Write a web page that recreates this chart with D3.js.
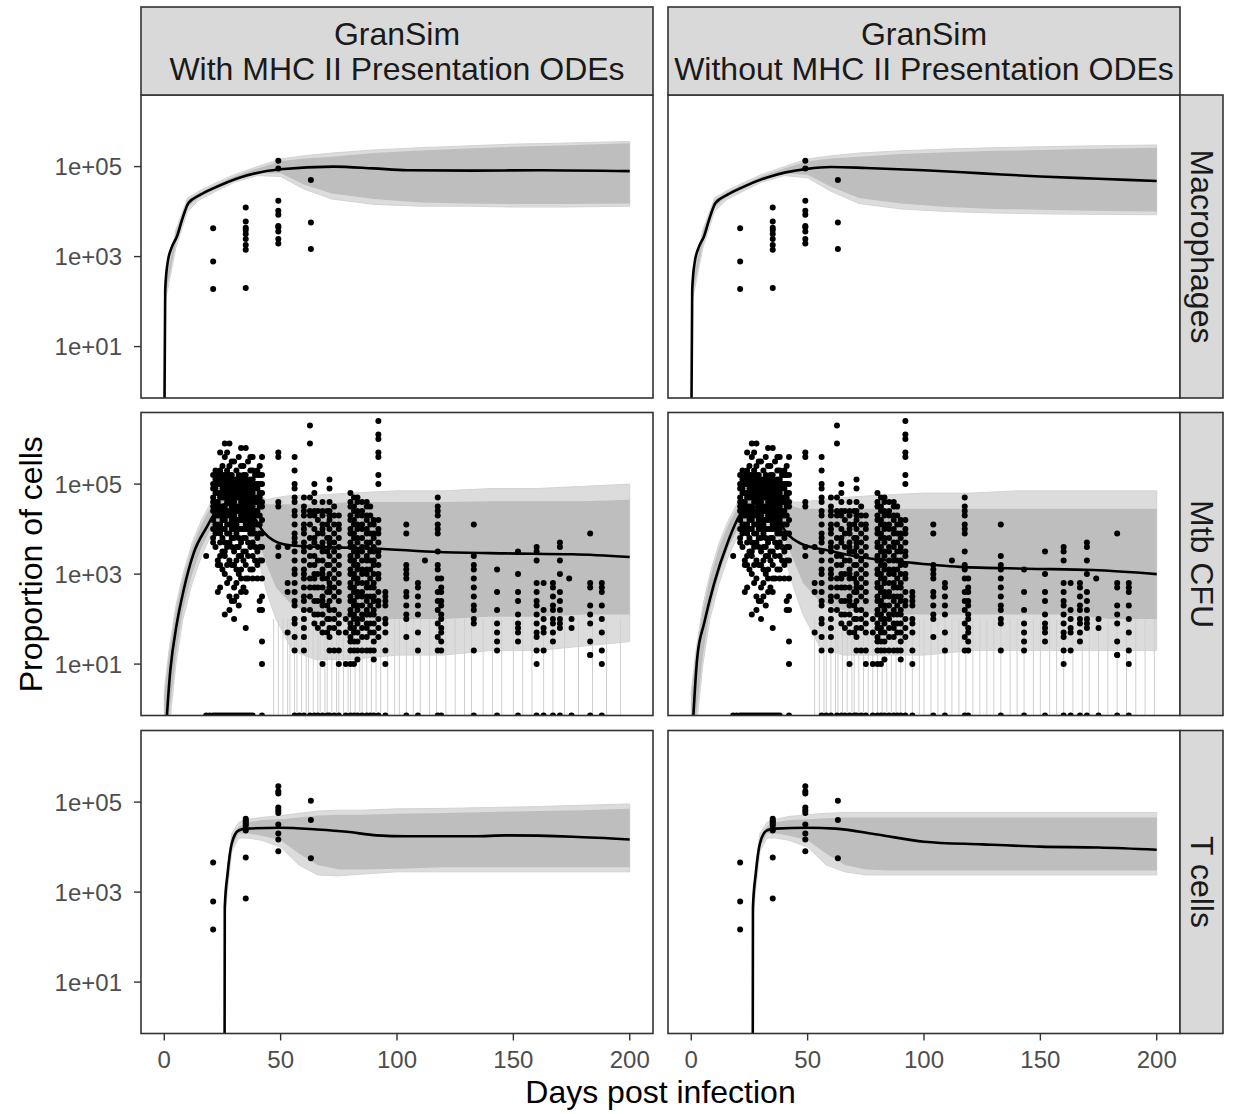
<!DOCTYPE html>
<html>
<head>
<meta charset="utf-8">
<script src="https://cdn.jsdelivr.net/npm/d3@7"></script>
<style>
  body { margin: 0; background: #fff; }
  text { font-family: "Liberation Sans", Arial, Helvetica, sans-serif; }
</style>
</head>
<body>
<script>
// ---- labels ----
const colLabels = [["GranSim", "With MHC II Presentation ODEs"], ["GranSim", "Without MHC II Presentation ODEs"]];
const rowLabels = ["Macrophages", "Mtb CFU", "T cells"];
const xTicks = [0, 50, 100, 150, 200];
const yTicks = [1e1, 1e3, 1e5];
const yTickLabels = ["1e+01", "1e+03", "1e+05"];

// ---- experimental data (log10 counts) ----
const macObsDays = [21, 35, 49, 63];
const macObsLog = [
  [3.63, 2.89, 2.28],
  [4.09, 3.78, 3.64, 3.59, 3.50, 3.39, 3.26, 3.15, 2.30],
  [5.13, 4.96, 4.24, 4.02, 3.93, 3.68, 3.65, 3.56, 3.39, 3.29],
  [4.70, 3.76, 3.17]
];
const tObsDays = [21, 35, 49, 63];
const tObsLog = [
  [3.66, 2.79, 2.17],
  [4.63, 4.59, 4.56, 4.52, 4.48, 4.40, 4.37, 3.77, 2.86],
  [5.35, 5.24, 5.19, 4.88, 4.82, 4.76, 4.50, 4.30, 4.17, 3.91],
  [5.03, 4.60, 3.75]
];
const cfuObsDays = [18, 21, 22, 23, 24, 25, 26, 27, 28, 29, 30, 31, 32, 33, 34, 35, 36, 37, 38, 39, 40, 41, 42,
  49, 53, 56, 60, 62.6, 64.5, 66, 68, 70, 71, 73, 75, 78, 80, 81.5, 83, 85, 87, 88.5, 90, 92, 95,
  104, 109, 112, 117.5, 119, 133, 143, 152, 160, 163, 167, 170, 174, 175, 183, 188];
const cfuObsLog = [
  [3.4],
  [5.2, 5.0, 4.9, 4.7, 4.6, 4.5, 4.4, 4.2, 4.0, 3.8, 3.7],
  [5.3, 5.1, 4.9, 4.8, 4.6, 4.5, 4.3, 4.1, 3.9, 3.6],
  [5.2, 5.0, 4.8, 4.6, 4.4, 4.3, 4.1, 4.0, 3.3, 3.2, 2.6],
  [5.7, 5.3, 5.1, 5.0, 4.8, 4.7, 4.5, 4.3, 4.1, 3.9, 3.7, 3.4, 3.2, 2.7],
  [5.4, 5.2, 5.0, 4.9, 4.7, 4.5, 4.4, 4.2, 4.0, 3.8, 3.5, 3.1],
  [5.9, 5.6, 5.2, 5.1, 5.0, 4.8, 4.7, 4.5, 4.3, 4.2, 4.0, 3.7, 3.5, 3.4, 3.0, 2.1],
  [5.7, 5.3, 5.1, 4.9, 4.8, 4.6, 4.4, 4.3, 4.1, 3.9, 3.6, 3.2, 2.8],
  [5.9, 5.4, 5.2, 5.0, 4.9, 4.7, 4.6, 4.4, 4.3, 4.1, 3.9, 3.7, 3.3, 2.9, 2.5, 2.2],
  [5.5, 5.2, 5.1, 4.9, 4.8, 4.6, 4.5, 4.3, 4.2, 4.0, 3.8, 3.6, 3.2, 2.4],
  [5.5, 5.1, 5.0, 4.8, 4.7, 4.6, 4.4, 4.3, 4.1, 4.0, 3.8, 3.5, 3.2, 2.7, 2.4, 2.0],
  [5.3, 5.1, 4.9, 4.8, 4.7, 4.5, 4.4, 4.2, 4.1, 3.9, 3.6, 3.3, 3.1, 2.8, 2.5],
  [5.6, 5.2, 5.0, 4.9, 4.7, 4.5, 4.4, 4.2, 4.0, 3.8, 3.6, 3.4, 3.0, 2.3],
  [5.8, 5.4, 5.1, 5.0, 4.8, 4.6, 4.5, 4.3, 4.2, 4.0, 3.7, 3.4, 3.1, 2.9, 2.6],
  [5.4, 5.2, 5.0, 4.9, 4.7, 4.5, 4.4, 4.2, 4.0, 3.8, 3.5, 3.3, 2.7],
  [5.8, 5.2, 5.1, 4.9, 4.8, 4.6, 4.5, 4.3, 4.1, 4.0, 3.8, 3.5, 3.2, 2.9, 2.6, 1.8],
  [5.5, 5.0, 4.9, 4.7, 4.6, 4.4, 4.2, 4.0, 3.7, 3.4, 2.9],
  [5.6, 5.3, 5.1, 4.9, 4.8, 4.6, 4.5, 4.3, 4.1, 3.9, 3.6, 3.1],
  [5.6, 5.3, 5.1, 5.0, 4.8, 4.7, 4.5, 4.4, 4.2, 4.0, 3.9, 3.7, 3.4, 3.1, 2.9],
  [5.2, 5.0, 4.9, 4.7, 4.6, 4.4, 4.3, 4.1, 3.9, 3.6, 3.3],
  [5.3, 5.2, 5.0, 4.9, 4.7, 4.6, 4.4, 4.3, 4.1, 3.8, 3.5, 3.2, 2.9],
  [5.4, 5.2, 5.0, 4.8, 4.7, 4.5, 4.3, 4.1, 3.9, 3.6, 3.3, 2.4, 2.2],
  [5.6, 5.2, 5.0, 4.8, 4.6, 4.5, 4.2, 3.9, 3.6, 3.3, 2.9, 2.5, 2.2, 1.5, 1.0],
  [5.7, 5.6, 4.6, 4.5, 3.6, 3.4],
  [3.6, 2.8, 2.6, 1.7],
  [5.6, 5.3, 5.0, 4.9, 4.7, 4.6, 4.4, 4.3, 4.1, 3.9, 3.8, 3.7, 3.5, 3.3, 3.1, 3.0, 2.8, 2.6, 2.4, 2.3, 2.0, 1.9, 1.6, 1.3],
  [4.7, 4.5, 4.4, 4.3, 4.1, 4.0, 3.9, 3.7, 3.6, 3.5, 3.3, 3.1, 3.0, 2.9, 2.7, 2.5, 2.4, 2.2, 2.0, 1.8, 1.6, 1.3],
  [6.3, 5.9, 4.7, 4.4, 4.3, 4.1, 3.8, 3.6, 3.4, 3.2, 2.9, 2.7, 2.5, 2.2],
  [5.0, 4.8, 4.6, 4.4, 4.3, 4.0, 3.8, 3.7, 3.4, 3.2, 3.0, 2.9, 2.7, 2.4, 2.1, 1.9],
  [4.4, 4.2, 3.9, 3.6, 3.3, 3.0, 2.7, 2.4, 2.1, 1.8],
  [4.6, 4.4, 4.3, 4.1, 4.0, 3.9, 3.7, 3.6, 3.5, 3.3, 3.1, 3.0, 2.9, 2.7, 2.5, 2.4, 2.3, 2.1, 1.9, 1.7, 1.0],
  [4.4, 4.1, 3.8, 3.5, 3.2, 2.9, 2.6, 2.3, 2.0, 1.7],
  [5.1, 4.9, 4.6, 4.4, 4.3, 4.2, 4.0, 3.8, 3.7, 3.6, 3.4, 3.2, 3.0, 2.8, 2.7, 2.6, 2.4, 2.2, 2.0, 1.8, 1.6, 1.3],
  [4.5, 4.3, 4.1, 3.9, 3.7, 3.5, 3.3, 3.1, 2.9, 2.7, 2.5, 2.2, 2.0, 1.8, 1.3],
  [4.3, 4.1, 4.0, 3.8, 3.6, 3.4, 3.2, 3.0, 2.8, 2.6, 2.4, 2.1, 1.9, 1.7, 1.3, 1.0],
  [2.0, 1.7, 1.0],
  [4.8, 4.6, 4.5, 4.3, 4.2, 4.0, 3.9, 3.7, 3.6, 3.4, 3.3, 3.1, 3.0, 2.8, 2.7, 2.5, 2.4, 2.2, 2.1, 1.9, 1.8, 1.6, 1.5, 1.3, 1.0],
  [4.7, 4.5, 4.4, 4.2, 4.1, 3.9, 3.8, 3.6, 3.5, 3.3, 3.2, 3.0, 2.9, 2.7, 2.6, 2.4, 2.3, 2.1, 2.0, 1.8, 1.7, 1.5, 1.3, 1.0],
  [4.7, 4.6, 4.4, 4.3, 4.1, 4.0, 3.8, 3.7, 3.5, 3.4, 3.2, 3.1, 2.9, 2.8, 2.6, 2.5, 2.3, 2.2, 2.0, 1.9, 1.7, 1.5, 1.3, 1.1],
  [4.6, 4.4, 4.3, 4.1, 4.0, 3.8, 3.6, 3.5, 3.3, 3.1, 3.0, 2.8, 2.6, 2.5, 2.3, 2.1, 2.0, 1.8, 1.6, 1.3],
  [4.6, 4.5, 4.3, 4.2, 4.0, 3.9, 3.7, 3.6, 3.4, 3.3, 3.1, 3.0, 2.8, 2.7, 2.5, 2.4, 2.2, 2.1, 1.9, 1.8, 1.6, 1.3],
  [4.5, 4.3, 4.1, 3.9, 3.7, 3.5, 3.3, 3.1, 2.9, 2.7, 2.5, 2.3, 2.1, 1.9, 1.7, 1.3],
  [4.2, 4.1, 3.9, 3.8, 3.6, 3.5, 3.3, 3.2, 3.0, 2.8, 2.7, 2.5, 2.4, 2.2, 2.1, 1.9, 1.7, 1.5, 1.3, 1.1],
  [6.4, 6.1, 6.0, 5.7, 5.6, 5.2, 5.0, 4.2, 4.0, 3.9, 3.7, 3.5, 3.4, 3.2, 3.0, 2.9, 2.6, 2.4, 2.3, 2.0, 1.8, 1.6],
  [2.6, 2.5, 2.4, 2.3, 2.0, 1.9, 1.7, 1.3, 1.0],
  [4.1, 3.9, 3.2, 3.1, 3.0, 2.9, 2.6, 2.5, 2.3, 2.1, 2.0, 1.6],
  [2.8, 2.7, 2.5, 2.3, 2.1, 1.7, 1.3],
  [3.3],
  [4.7, 4.5, 4.4, 4.3, 4.1, 4.0, 3.9, 3.5, 3.2, 3.1, 2.9, 2.6, 2.4, 2.2, 1.9, 1.6, 1.3],
  [2.9, 2.7, 2.6, 2.4, 2.3, 2.1, 2.0, 1.8, 1.7, 1.5, 1.3],
  [4.1, 3.4, 3.2, 3.1, 2.9, 2.7, 2.5, 2.3, 2.2, 2.0, 1.9, 1.3],
  [3.1, 2.6, 2.2, 1.9, 1.7, 1.5, 1.3],
  [3.5, 3.0, 2.6, 2.4, 2.1, 1.9, 1.8, 1.7, 1.5],
  [3.6, 3.5, 3.3, 2.8, 2.6, 2.4, 2.3, 2.1, 1.9, 1.7, 1.6, 1.3, 1.0],
  [2.8, 2.2, 2.0, 1.8, 1.7, 1.3],
  [2.8, 2.7, 2.5, 2.3, 2.2, 2.0, 1.9, 1.7, 1.5],
  [3.7, 3.6, 3.3, 3.0, 2.6, 2.4, 2.2, 2.0, 1.9, 1.8],
  [2.9],
  [2.0, 1.8],
  [3.9, 2.8, 2.7, 2.3, 2.1, 1.9, 1.5, 1.2, 1.2],
  [2.8, 2.7, 2.6, 2.3, 2.0, 1.7, 1.3, 1.0]
];
// days with a zero-CFU observation (drawn on the lower panel edge)
const cfuZeroDays = [18, 19.5, 21, 22, 23, 24, 25, 26, 27, 28, 29, 30, 31, 32, 33, 34, 35, 36, 37, 38, 42,
  56, 58, 60, 62.6, 64.5, 66, 68, 70, 71, 73, 75, 78, 80, 81.5, 83, 85, 87, 88.5, 90, 92, 95,
  104, 109, 117.5, 119, 133, 143, 152, 160, 163, 167, 170, 175, 183, 188];

// ---- simulations: median (log10; null = zero), dense core band and faint outer band of the runs ----
// Macrophages, with MHC II
const macWithMedDays = [0, 0.4, 1.4, 3.3, 5.4, 7.6, 10.4, 15.4, 21.2, 32.6, 49.8, 72.7, 89.9, 104.3, 132.9, 161.5, 200];
const macWithMedLog = [null, 2.26, 2.85, 3.22, 3.44, 3.81, 4.19, 4.37, 4.52, 4.76, 4.94, 5.0, 4.96, 4.92, 4.91, 4.92, 4.90];
const macEnvDays = [0.4, 5, 10, 15, 21, 30, 40, 50, 60, 72, 90, 110, 130, 150, 170, 200];
const macWithHi = [2.35, 3.55, 4.25, 4.42, 4.57, 4.78, 4.96, 5.12, 5.18, 5.22, 5.30, 5.36, 5.40, 5.44, 5.47, 5.52];
const macWithLo = [2.10, 3.30, 4.10, 4.32, 4.47, 4.70, 4.85, 4.85, 4.60, 4.40, 4.28, 4.20, 4.18, 4.17, 4.17, 4.18];
const macWithOutHi = [2.40, 3.60, 4.30, 4.46, 4.61, 4.82, 5.00, 5.17, 5.24, 5.30, 5.37, 5.42, 5.46, 5.50, 5.52, 5.56];
const macWithOutLo = [2.00, 3.20, 4.00, 4.26, 4.42, 4.65, 4.80, 4.78, 4.50, 4.28, 4.16, 4.12, 4.12, 4.10, 4.10, 4.12];
// Macrophages, without MHC II
const macWithoutMedDays = [0, 0.4, 1.4, 3.3, 5.4, 7.6, 10.4, 15.4, 21.2, 32.6, 49.8, 60, 75, 100, 125, 150, 175, 200];
const macWithoutMedLog = [null, 2.26, 2.85, 3.22, 3.44, 3.81, 4.19, 4.37, 4.52, 4.76, 4.95, 4.99, 4.97, 4.92, 4.85, 4.78, 4.73, 4.68];
const macWithoutHi = [2.35, 3.55, 4.25, 4.42, 4.57, 4.78, 4.96, 5.12, 5.18, 5.22, 5.28, 5.32, 5.35, 5.37, 5.39, 5.42];
const macWithoutLo = [2.10, 3.30, 4.10, 4.32, 4.47, 4.70, 4.85, 4.82, 4.55, 4.30, 4.18, 4.10, 4.06, 4.04, 4.02, 4.00];
const macWithoutOutHi = [2.40, 3.60, 4.30, 4.46, 4.61, 4.82, 5.00, 5.17, 5.24, 5.30, 5.35, 5.39, 5.42, 5.44, 5.46, 5.48];
const macWithoutOutLo = [2.00, 3.20, 4.00, 4.26, 4.42, 4.65, 4.80, 4.75, 4.45, 4.18, 4.06, 4.00, 3.97, 3.95, 3.94, 3.93];

// Mtb CFU, with MHC II
const cfuWithMedDays = [0, 2.6, 5.4, 8.3, 12.6, 18.3, 22.6, 26, 32, 38, 42.6, 46.9, 54, 68.4, 90, 118.4, 147, 175.6, 200];
const cfuWithMedLog = [null, 0.86, 1.9, 2.64, 3.46, 4.05, 4.42, 4.55, 4.5, 4.3, 3.94, 3.75, 3.64, 3.6, 3.57, 3.49, 3.46, 3.44, 3.38];
const cfuEnvDays = [0, 2, 5, 8, 12, 16, 20, 25, 30, 35, 40, 44, 48, 55, 65, 80, 100, 120, 140, 160, 180, 200];
const cfuWithHi = [0.3, 1.2, 2.2, 2.9, 3.6, 4.1, 4.5, 4.8, 4.85, 4.8, 4.7, 4.55, 4.55, 4.55, 4.55, 4.6, 4.6, 4.6, 4.62, 4.62, 4.62, 4.65];
const cfuWithLo = [-0.5, -0.2, 1.2, 2.2, 3.0, 3.6, 4.0, 4.3, 4.3, 4.2, 3.8, 3.2, 2.7, 2.3, 2.1, 2.0, 2.0, 2.0, 2.05, 2.05, 2.1, 2.1];
const cfuWithOutHi = [0.4, 1.3, 2.3, 3.0, 3.7, 4.2, 4.6, 4.9, 4.95, 4.9, 4.8, 4.65, 4.7, 4.75, 4.75, 4.8, 4.85, 4.85, 4.9, 4.9, 4.95, 5.0];
const cfuWithOutLo = [-0.5, -0.5, 1.0, 2.0, 2.8, 3.4, 3.85, 4.15, 4.15, 4.0, 3.4, 2.6, 2.0, 1.3, 1.1, 1.1, 1.2, 1.2, 1.3, 1.3, 1.4, 1.5];
const cfuWithDrops = [47, 49, 51, 53, 54, 56, 57, 59, 61, 62, 64, 66, 67, 69, 70, 72, 74, 75, 77, 79, 80, 82, 84, 85,
  87, 89, 91, 93, 96, 99, 101, 104, 107, 110, 114, 117, 121, 125, 129, 132, 137, 141, 145, 150, 154, 158, 163,
  167, 172, 178, 184, 190, 196];
// Mtb CFU, without MHC II
const cfuWithoutMedDays = [0, 2.6, 5.5, 9.8, 15.5, 21.2, 25, 30, 36, 41.2, 47, 58.4, 72.6, 91.2, 115.5, 144, 172.6, 200];
const cfuWithoutMedLog = [null, 1.16, 1.9, 2.79, 3.68, 4.34, 4.5, 4.5, 4.3, 3.9, 3.68, 3.53, 3.38, 3.27, 3.16, 3.12, 3.09, 3.0];
const cfuWithoutHi = [0.3, 1.2, 2.2, 2.9, 3.6, 4.1, 4.5, 4.8, 4.85, 4.8, 4.7, 4.5, 4.45, 4.45, 4.45, 4.45, 4.45, 4.45, 4.45, 4.45, 4.45, 4.45];
const cfuWithoutLo = [-0.5, -0.2, 1.2, 2.2, 3.0, 3.6, 4.0, 4.3, 4.3, 4.2, 3.8, 3.3, 2.8, 2.4, 2.2, 2.1, 2.1, 2.1, 2.1, 2.1, 2.0, 2.0];
const cfuWithoutOutHi = [0.4, 1.3, 2.3, 3.0, 3.7, 4.2, 4.6, 4.9, 4.95, 4.9, 4.8, 4.6, 4.6, 4.65, 4.7, 4.75, 4.8, 4.8, 4.85, 4.85, 4.85, 4.85];
const cfuWithoutOutLo = [-0.5, -0.5, 1.0, 2.0, 2.8, 3.4, 3.85, 4.15, 4.15, 4.0, 3.4, 2.7, 2.1, 1.4, 1.2, 1.2, 1.2, 1.3, 1.3, 1.3, 1.3, 1.3];
const cfuWithoutDrops = [53, 55, 57, 58, 60, 62, 63, 65, 67, 69, 70, 72, 74, 76, 78, 80, 82, 84, 86, 88, 90, 92, 95,
  98, 100, 103, 106, 109, 112, 115, 118, 121, 124, 127, 130, 133, 137, 140, 143, 147, 150, 154, 157, 160, 164,
  168, 171, 175, 179, 183, 187, 191, 195, 199];

// T cells, with MHC II
const tWithMedDays = [25.9, 26.0, 27.2, 29, 31.9, 35.5, 49.9, 65.6, 78.4, 91.3, 104, 133, 147, 175.6, 200];
const tWithMedLog = [null, 2.67, 3.41, 4.08, 4.37, 4.41, 4.43, 4.39, 4.34, 4.26, 4.24, 4.24, 4.26, 4.23, 4.17];
const tWithEnvDays = [26, 27.5, 29, 32, 36, 42, 50, 58, 66, 75, 85, 100, 120, 140, 160, 180, 200];
const tWithHi = [2.8, 3.6, 4.2, 4.45, 4.55, 4.6, 4.62, 4.66, 4.7, 4.72, 4.72, 4.74, 4.76, 4.78, 4.8, 4.82, 4.85];
const tWithLo = [2.5, 3.3, 4.0, 4.3, 4.3, 4.25, 4.15, 3.85, 3.6, 3.5, 3.5, 3.52, 3.55, 3.55, 3.55, 3.55, 3.55];
const tWithOutHi = [2.9, 3.7, 4.3, 4.55, 4.62, 4.66, 4.7, 4.75, 4.8, 4.82, 4.82, 4.85, 4.86, 4.88, 4.9, 4.93, 4.96];
const tWithOutLo = [2.4, 3.2, 3.9, 4.2, 4.2, 4.15, 4.0, 3.6, 3.38, 3.36, 3.4, 3.45, 3.45, 3.45, 3.45, 3.45, 3.45];
// T cells, without MHC II
const tWithoutMedDays = [26.4, 26.5, 27.7, 29.5, 32.4, 36, 50, 62, 80, 100, 125, 150, 175, 200];
const tWithoutMedLog = [null, 2.67, 3.41, 4.08, 4.37, 4.41, 4.43, 4.41, 4.28, 4.12, 4.06, 4.01, 3.99, 3.94];
const tWithoutEnvDays = [26.5, 28, 29.5, 32.5, 36.5, 42, 50, 58, 66, 75, 85, 100, 120, 140, 160, 180, 200];
const tWithoutHi = [2.8, 3.6, 4.2, 4.45, 4.55, 4.6, 4.62, 4.64, 4.66, 4.66, 4.66, 4.66, 4.66, 4.66, 4.66, 4.66, 4.66];
const tWithoutLo = [2.5, 3.3, 4.0, 4.3, 4.3, 4.25, 4.15, 3.85, 3.6, 3.5, 3.48, 3.48, 3.48, 3.48, 3.48, 3.48, 3.48];
const tWithoutOutHi = [2.9, 3.7, 4.3, 4.55, 4.62, 4.68, 4.72, 4.75, 4.77, 4.77, 4.77, 4.77, 4.77, 4.77, 4.77, 4.77, 4.77];
const tWithoutOutLo = [2.4, 3.2, 3.9, 4.2, 4.2, 4.15, 4.0, 3.6, 3.45, 3.38, 3.38, 3.38, 3.38, 3.38, 3.38, 3.38, 3.38];

// ---- layout ----
const W = 1238, H = 1114;
const colX = [141, 668], panelW = 512;
const rowY = [95, 412.5, 730.5], panelH = 303;
const stripTop = 7, stripRightW = 43;
const borderCol = "#333333";

const x = d3.scaleLinear().domain([-10, 210]).range([0, panelW]);
const y = d3.scaleLog().domain([0.72, 3.9e6]).range([panelH, 0]);

const svg = d3.select("body").append("svg")
    .attr("width", W)
    .attr("height", H);

const obsByRow = [
  {days: macObsDays, vals: macObsLog, zeros: []},
  {days: cfuObsDays, vals: cfuObsLog, zeros: cfuZeroDays},
  {days: tObsDays, vals: tObsLog, zeros: []}
];
const panels = [
  {medDays: macWithMedDays, med: macWithMedLog, env: macEnvDays, hi: macWithHi, lo: macWithLo, ohi: macWithOutHi, olo: macWithOutLo, drops: []},
  {medDays: macWithoutMedDays, med: macWithoutMedLog, env: macEnvDays, hi: macWithoutHi, lo: macWithoutLo, ohi: macWithoutOutHi, olo: macWithoutOutLo, drops: []},
  {medDays: cfuWithMedDays, med: cfuWithMedLog, env: cfuEnvDays, hi: cfuWithHi, lo: cfuWithLo, ohi: cfuWithOutHi, olo: cfuWithOutLo, drops: cfuWithDrops},
  {medDays: cfuWithoutMedDays, med: cfuWithoutMedLog, env: cfuEnvDays, hi: cfuWithoutHi, lo: cfuWithoutLo, ohi: cfuWithoutOutHi, olo: cfuWithoutOutLo, drops: cfuWithoutDrops},
  {medDays: tWithMedDays, med: tWithMedLog, env: tWithEnvDays, hi: tWithHi, lo: tWithLo, ohi: tWithOutHi, olo: tWithOutLo, drops: []},
  {medDays: tWithoutMedDays, med: tWithoutMedLog, env: tWithoutEnvDays, hi: tWithoutHi, lo: tWithoutLo, ohi: tWithoutOutHi, olo: tWithoutOutLo, drops: []}
];

// y position of a log10 value; null (zero count) sits below the panel
const yv = v => v == null ? panelH + 40 : y(Math.pow(10, v));

svg.append("defs").append("clipPath").attr("id", "panelclip")
  .append("rect").attr("width", panelW).attr("height", panelH);

for (let r = 0; r < 3; r++) {
  for (let c = 0; c < 2; c++) {
    const p = panels[r * 2 + c];
    const obs = obsByRow[r];
    const g = svg.append("g")
        .attr("transform", "translate(" + colX[c] + "," + rowY[r] + ")");
    const body = g.append("g").attr("clip-path", "url(#panelclip)");

    const env = p.env.map((d, i) => ({day: d, hi: p.hi[i], lo: p.lo[i], ohi: p.ohi[i], olo: p.olo[i]}));

    // faint outer runs
    body.append("path").datum(env)
        .attr("d", d3.area().x(d => x(d.day)).y0(d => yv(d.olo)).y1(d => yv(d.ohi)))
        .attr("fill", "#DCDCDC")
        .attr("stroke", "#D3D3D3")
        .attr("stroke-width", 1);

    // runs dropping to zero
    body.selectAll("line.drop").data(p.drops).join("line")
        .attr("class", "drop")
        .attr("x1", d => x(d)).attr("x2", d => x(d))
        .attr("y1", yv(2.0)).attr("y2", panelH + 5)
        .attr("stroke", "#CFCFCF")
        .attr("stroke-width", 1);

    // dense core of the runs
    body.append("path").datum(env)
        .attr("d", d3.area().x(d => x(d.day)).y0(d => yv(d.lo)).y1(d => yv(d.hi)))
        .attr("fill", "#BEBEBE");

    // median
    const med = p.medDays.map((d, i) => ({day: d, v: p.med[i]}));
    body.append("path").datum(med)
        .attr("d", d3.line().curve(d3.curveMonotoneX).x(d => x(d.day)).y(d => yv(d.v)))
        .attr("fill", "none")
        .attr("stroke", "#000")
        .attr("stroke-width", 2.6);

    // observed data
    const pts = [];
    obs.days.forEach((d, i) => obs.vals[i].forEach(v => pts.push({day: d, v: v})));
    body.selectAll("circle.obs").data(pts).join("circle")
        .attr("class", "obs")
        .attr("cx", d => x(d.day))
        .attr("cy", d => yv(d.v))
        .attr("r", 3)
        .attr("fill", "#000");
    body.selectAll("circle.zero").data(obs.zeros).join("circle")
        .attr("class", "zero")
        .attr("cx", d => x(d))
        .attr("cy", panelH)
        .attr("r", 3)
        .attr("fill", "#000");

    // border
    g.append("rect")
        .attr("width", panelW).attr("height", panelH)
        .attr("fill", "none")
        .attr("stroke", borderCol)
        .attr("stroke-width", 1.6);

    // y axis on left column
    if (c === 0) {
      yTicks.forEach((t, i) => {
        g.append("line")
            .attr("x1", -7).attr("x2", 0)
            .attr("y1", y(t)).attr("y2", y(t))
            .attr("stroke", borderCol).attr("stroke-width", 1.4);
        g.append("text")
            .attr("x", -19).attr("y", y(t) + 8.5)
            .attr("text-anchor", "end")
            .attr("font-size", 24)
            .attr("fill", "#4D4D4D")
            .text(yTickLabels[i]);
      });
    }
    // x axis on bottom row
    if (r === 2) {
      xTicks.forEach(t => {
        g.append("line")
            .attr("x1", x(t)).attr("x2", x(t))
            .attr("y1", panelH).attr("y2", panelH + 7)
            .attr("stroke", borderCol).attr("stroke-width", 1.4);
        g.append("text")
            .attr("x", x(t)).attr("y", panelH + 34)
            .attr("text-anchor", "middle")
            .attr("font-size", 24)
            .attr("fill", "#4D4D4D")
            .text(t);
      });
    }
  }
}

// top strips
for (let c = 0; c < 2; c++) {
  svg.append("rect")
      .attr("x", colX[c]).attr("y", stripTop)
      .attr("width", panelW).attr("height", rowY[0] - stripTop)
      .attr("fill", "#D9D9D9")
      .attr("stroke", borderCol).attr("stroke-width", 1.6);
  colLabels[c].forEach((s, i) => {
    svg.append("text")
        .attr("x", colX[c] + panelW / 2)
        .attr("y", 44.5 + i * 35)
        .attr("text-anchor", "middle")
        .attr("font-size", 32)
        .attr("fill", "#1A1A1A")
        .text(s);
  });
}
// right strips
const stripX = colX[1] + panelW;
for (let r = 0; r < 3; r++) {
  svg.append("rect")
      .attr("x", stripX).attr("y", rowY[r])
      .attr("width", stripRightW).attr("height", panelH)
      .attr("fill", "#D9D9D9")
      .attr("stroke", borderCol).attr("stroke-width", 1.6);
  const cx = stripX + stripRightW / 2, cy = rowY[r] + panelH / 2;
  svg.append("text")
      .attr("transform", "translate(" + (cx - 11) + "," + cy + ") rotate(90)")
      .attr("text-anchor", "middle")
      .attr("font-size", 32)
      .attr("fill", "#1A1A1A")
      .text(rowLabels[r]);
}

// axis titles
svg.append("text")
    .attr("x", (colX[0] + colX[1] + panelW) / 2)
    .attr("y", 1103)
    .attr("text-anchor", "middle")
    .attr("font-size", 32)
    .attr("fill", "#000")
    .text("Days post infection");
svg.append("text")
    .attr("transform", "translate(42," + (rowY[0] + rowY[2] + panelH) / 2 + ") rotate(-90)")
    .attr("text-anchor", "middle")
    .attr("font-size", 32)
    .attr("fill", "#000")
    .text("Proportion of cells");
</script>
</body>
</html>
